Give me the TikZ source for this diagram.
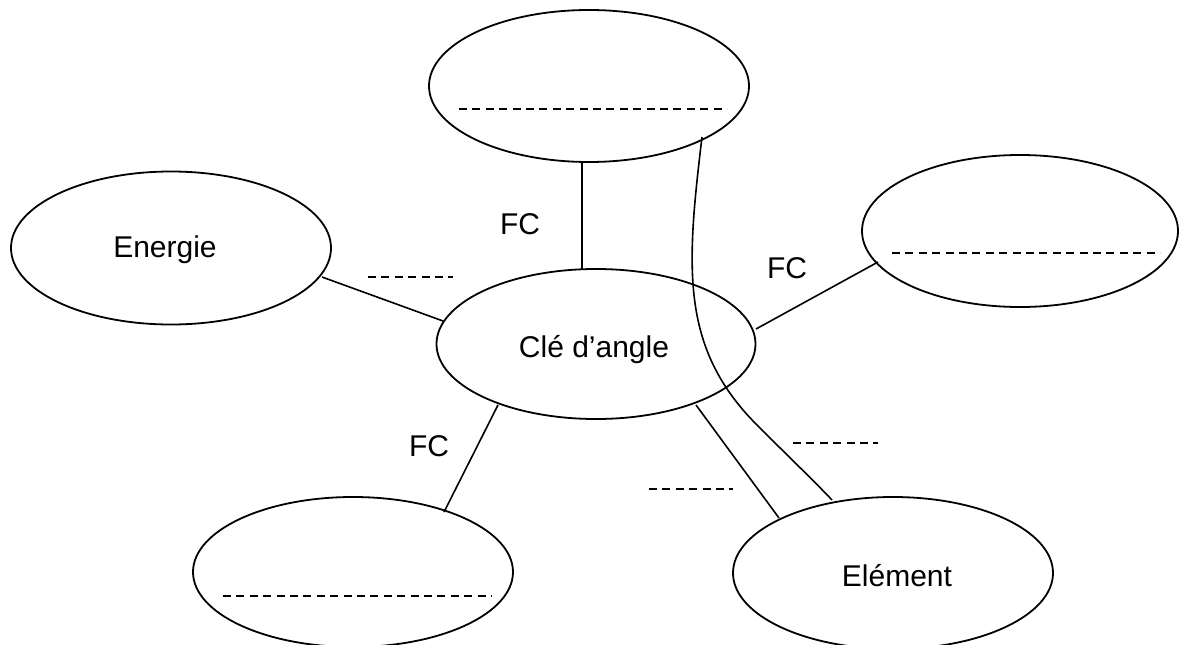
\documentclass[tikz,border=0pt]{standalone}
\usepackage{fontspec}
\setmainfont{Liberation Sans}
\usetikzlibrary{shapes.geometric}
\begin{document}
\begin{tikzpicture}[x=1pt,y=-1pt,
  bub/.style={draw,ellipse,line width=1.8pt,inner sep=0pt},
  link/.style={line width=1.6pt},
  blank/.style={line width=1.8pt,dash pattern=on 8pt off 5.4pt},
  lab/.style={font=\fontsize{30}{34}\selectfont,inner sep=0pt}]
\useasboundingbox (0,0) rectangle (1179,645);
\node[bub,minimum width=320pt,minimum height=152pt] (top) at (589,86) {};
\node[bub,minimum width=320pt,minimum height=153pt] (en) at (171,248) {};
\node[bub,minimum width=316pt,minimum height=152pt] (rt) at (1020,231) {};
\node[bub,minimum width=319pt,minimum height=150pt] (c) at (596,344) {};
\node[bub,minimum width=320pt,minimum height=150pt] (bl) at (353,572) {};
\node[bub,minimum width=320pt,minimum height=152pt] (el) at (893,573) {};
\node[lab] (tc) at (594,350) {Clé d’angle};
\node[lab] (te) at (165,250) {Energie};
\node[lab] (tel) at (897,576) {Elément};
\node[lab] (fc1) at (520,224) {FC};
\node[lab] (fc2) at (787,268) {FC};
\node[lab] (fc3) at (429,446) {FC};
% dashed blanks
\coordinate (d1a) at (459,109); \coordinate (d1b) at (727,109);
\coordinate (d2a) at (892,253); \coordinate (d2b) at (1160,253);
\coordinate (d3a) at (223,596); \coordinate (d3b) at (492,596);
\coordinate (d4a) at (368,277); \coordinate (d4b) at (453,277);
\coordinate (d5a) at (793,443); \coordinate (d5b) at (878,443);
\coordinate (d6a) at (649,489); \coordinate (d6b) at (733,489);
\foreach \i in {1,...,6} {\draw[blank] (d\i a) -- (d\i b);}
% connectors
\coordinate (t1) at (582,162); \coordinate (c1) at (582,269);
\draw[link] (t1) -- (c1);
\coordinate (e1) at (322,277); \coordinate (c2) at (443,321);
\draw[link] (e1) -- (c2);
\coordinate (c3) at (756,329); \coordinate (r1) at (878,262);
\draw[link] (c3) -- (r1);
\coordinate (c4) at (498,405); \coordinate (b1) at (444,512);
\draw[link] (c4) -- (b1);
\coordinate (c5) at (696,405); \coordinate (l1) at (779,518);
\draw[link] (c5) -- (l1);
\coordinate (t2) at (702,137); \coordinate (l2) at (832,500);
\draw[link] (t2) .. controls (686,270) and (680,350) .. (760,428) .. controls (790,458) and (815,482) .. (l2);
\end{tikzpicture}
\end{document}
